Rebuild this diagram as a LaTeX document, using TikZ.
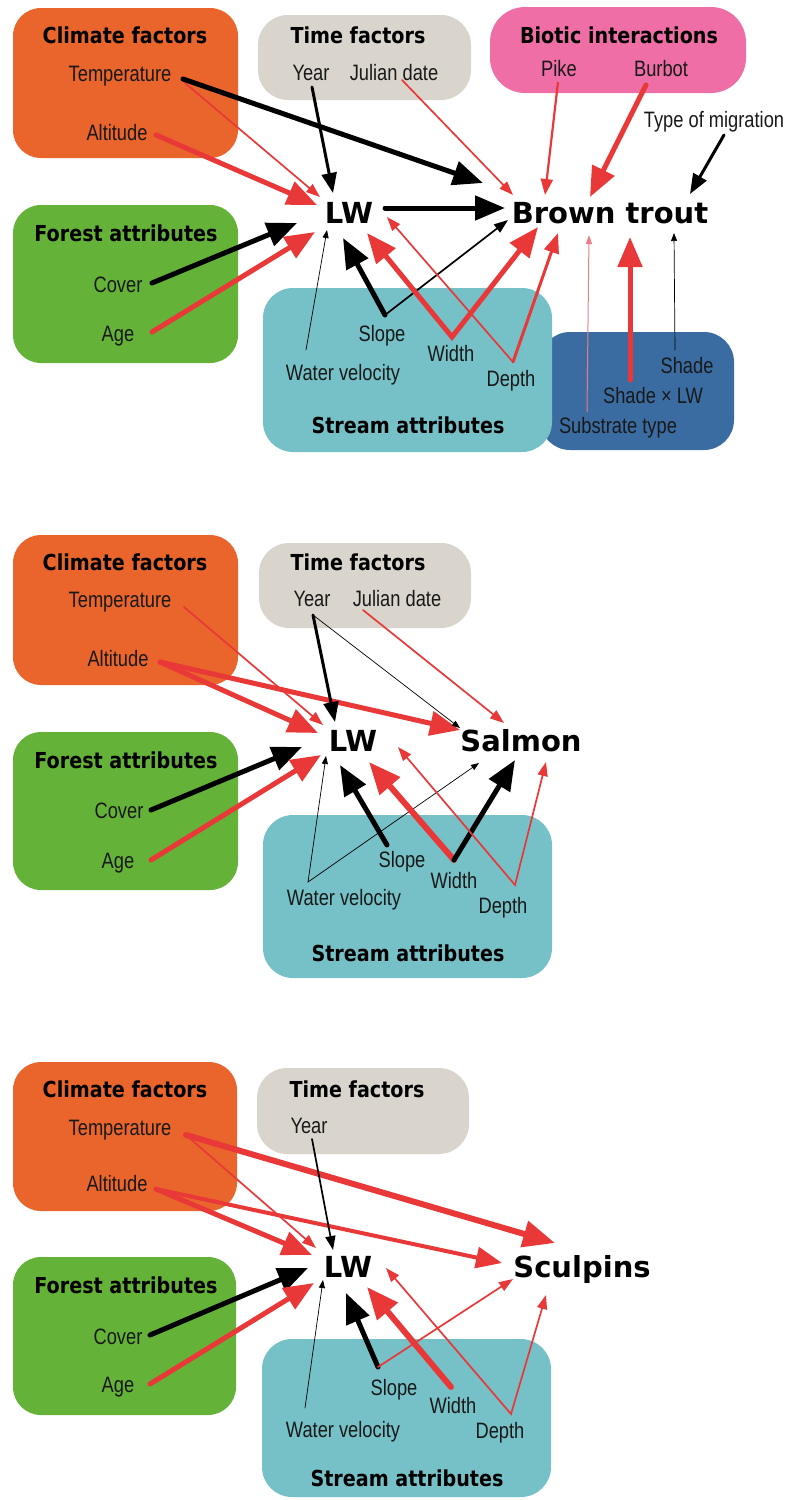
\documentclass[tikz,border=0pt]{standalone}
\usepackage{fontspec}
\setmainfont{Liberation Sans}
\newfontfamily\labfont[FakeStretch=0.82]{Liberation Sans}
\newfontfamily\ttlfont[FakeStretch=0.87]{DejaVu Sans}
\newfontfamily\bigfont{DejaVu Sans}
\usetikzlibrary{arrows.meta,calc}
\definecolor{climc}{RGB}{233,101,43}
\definecolor{timec}{RGB}{218,213,204}
\definecolor{bioc}{RGB}{238,110,165}
\definecolor{forc}{RGB}{101,178,57}
\definecolor{strc}{RGB}{118,193,199}
\definecolor{darkc}{RGB}{58,108,162}
\definecolor{arred}{RGB}{232,56,56}
\definecolor{arpink}{RGB}{236,125,135}
\definecolor{labc}{RGB}{25,25,25}
\begin{document}
\begin{tikzpicture}[x=1pt,y=-1pt,
  box/.style={inner sep=0pt, outer sep=0pt, draw=none},
  ttl/.style={font=\ttlfont\bfseries\fontsize{22}{26}\selectfont, inner sep=0pt, text height=16pt, text depth=0pt},
  lab/.style={font=\labfont\fontsize{22.3}{26}\selectfont, text=labc, inner sep=0pt, text height=16pt, text depth=0pt},
  big/.style={font=\bigfont\bfseries\fontsize{29}{34}\selectfont, inner sep=0pt, text height=21pt, text depth=0pt},
  xthk/.style={line width=6pt, line cap=round, -{Triangle[length=32pt,width=26pt]}},
  thk/.style={line width=5pt, line cap=round, -{Triangle[length=30pt,width=24pt]}},
  mthk/.style={line width=4pt, line cap=round, -{Triangle[length=26pt,width=21pt]}},
  med/.style={line width=3pt, line cap=round, -{Triangle[length=20pt,width=15pt]}},
  thn/.style={line width=1.7pt, line cap=round, -{Triangle[length=14pt,width=10pt]}},
  vth/.style={line width=0.7pt, line cap=round, -{Triangle[length=8pt,width=6pt]}},
  thkb/.style={line width=5pt, line join=miter, {Triangle[length=30pt,width=24pt]}-{Triangle[length=30pt,width=24pt]}},
  thnb/.style={line width=1.7pt, line join=miter, {Triangle[length=14pt,width=10pt]}-{Triangle[length=14pt,width=10pt]}},
  vthb/.style={line width=0.7pt, line join=miter, {Triangle[length=8pt,width=6pt]}-{Triangle[length=8pt,width=6pt]}}
]
\useasboundingbox (0,0) rectangle (791,1500);

%%%%%%%%%%%%%%%% PANEL 1 %%%%%%%%%%%%%%%%
\node[box, fill=climc, rounded corners=28pt, minimum width=225pt, minimum height=150pt] (cf1) at (125.5,83) {};
\node[box, fill=timec, rounded corners=30pt, minimum width=213pt, minimum height=85pt] (tf1) at (364.5,57.5) {};
\node[box, fill=bioc, rounded corners=35pt, minimum width=256pt, minimum height=86pt] (bi1) at (618,50) {};
\node[box, fill=forc, rounded corners=28pt, minimum width=225pt, minimum height=158pt] (fa1) at (125.5,284) {};
\node[box, fill=darkc, rounded corners=30pt, minimum width=194pt, minimum height=118pt] (db1) at (637,391) {};
\node[box, fill=strc, rounded corners=30pt, minimum width=289pt, minimum height=164pt] (sa1) at (407.5,370) {};

\node[ttl] (cft1) at (125,35) {Climate factors};
\node[ttl] (tft1) at (358,35) {Time factors};
\node[ttl] (bit1) at (619,35) {Biotic interactions};
\node[ttl] (fat1) at (126,233) {Forest attributes};
\node[ttl] (sat1) at (408,425) {Stream attributes};

\node[lab] (temp1) at (120,73) {Temperature};
\node[lab] (alt1) at (117,132) {Altitude};
\node[lab] (year1) at (311,72) {Year};
\node[lab] (jul1) at (394,72) {Julian date};
\node[lab] (pike) at (559,68) {Pike};
\node[lab] (burbot) at (661,68) {Burbot};
\node[lab] (mig) at (714,119) {Type of migration};
\node[lab] (cover1) at (118,284) {Cover};
\node[lab] (age1) at (118,333) {Age};
\node[lab] (slope1) at (382,333) {Slope};
\node[lab] (wv1) at (343,372) {Water velocity};
\node[lab] (width1) at (451,353) {Width};
\node[lab] (depth1) at (511,378) {Depth};
\node[lab] (shade) at (687,365) {Shade};
\node[lab] (slw) at (653,395) {Shade × LW};
\node[lab] (subst) at (618,425) {Substrate type};
\node[big] (lw1) at (349,213) {LW};
\node[big] (bt) at (610,213) {Brown trout};

\coordinate (sv1) at ($(slope1)+(3,-18)$);
\coordinate (wdv1) at ($(width1)+(1,-16)$);
\coordinate (dpv1) at ($(depth1)+(2,-16)$);

\draw[arred, thn] ($(temp1)+(65,10)$) -- ($(lw1)+(-29,-16)$);
\draw[black, thk] ($(temp1)+(63,6)$) -- ($(bt)+(-127,-30)$);
\draw[arred, thk] ($(alt1)+(39,3)$) -- ($(lw1)+(-32,-8)$);
\draw[black, med] ($(year1)+(1,15)$) -- ($(lw1)+(-16,-20)$);
\draw[arred, thn] ($(jul1)+(8,8)$) -- ($(bt)+(-97,-18)$);
\draw[arred, line width=2.2pt, -{Triangle[length=16pt,width=12pt]}] ($(pike)+(-1,14)$) -- ($(bt)+(-65,-18)$);
\draw[arred, thk] ($(burbot)+(-15,17)$) -- ($(bt)+(-20,-16)$);
\draw[black, med] ($(mig)+(10,16)$) -- ($(bt)+(80,-19)$);
\draw[black, thk] ($(lw1)+(36,-5)$) -- ($(bt)+(-105,-5)$);
\draw[black, thk] ($(cover1)+(34,-1)$) -- ($(lw1)+(-52,10)$);
\draw[arred, thk] ($(age1)+(34,-1)$) -- ($(lw1)+(-34,19)$);
\draw[black, vth] ($(wv1)+(-37,-22)$) -- ($(lw1)+(-22,17)$);
\draw[black, thk] (sv1) -- ($(lw1)+(-6,25)$);
\draw[black, thn] (sv1) -- ($(bt)+(-102,7)$);
\draw[arred, thkb] ($(lw1)+(18,20)$) -- (wdv1) -- ($(bt)+(-72,14)$);
\draw[arred, thn] (dpv1) -- ($(lw1)+(38,4)$);
\draw[arred, med] (dpv1) -- ($(bt)+(-52,20)$);
\draw[arpink, line width=1pt, -{Triangle[length=9pt,width=6pt]}] ($(subst)+(-31,-13)$) -- ($(bt)+(-21,22)$);
\draw[arred, thk] ($(slw)+(-23,-15)$) -- ($(bt)+(20,24)$);
\draw[black, vth] ($(shade)+(-12,-15)$) -- ($(bt)+(64,20)$);

%%%%%%%%%%%%%%%% PANEL 2 %%%%%%%%%%%%%%%%
\node[box, fill=climc, rounded corners=28pt, minimum width=225pt, minimum height=150pt] (cf2) at (125.5,610) {};
\node[box, fill=timec, rounded corners=30pt, minimum width=212pt, minimum height=85pt] (tf2) at (365,585.5) {};
\node[box, fill=forc, rounded corners=28pt, minimum width=225pt, minimum height=158pt] (fa2) at (125.5,811) {};
\node[box, fill=strc, rounded corners=30pt, minimum width=289pt, minimum height=163pt] (sa2) at (407.5,896.5) {};

\node[ttl] (cft2) at (125,562) {Climate factors};
\node[ttl] (tft2) at (358,562) {Time factors};
\node[ttl] (fat2) at (126,760) {Forest attributes};
\node[ttl] (sat2) at (408,953) {Stream attributes};

\node[lab] (temp2) at (120,599) {Temperature};
\node[lab] (alt2) at (118,658) {Altitude};
\node[lab] (year2) at (312,598) {Year};
\node[lab] (jul2) at (397,598) {Julian date};
\node[lab] (cover2) at (119,810) {Cover};
\node[lab] (age2) at (118,860) {Age};
\node[lab] (slope2) at (402,859) {Slope};
\node[lab] (wv2) at (344,897) {Water velocity};
\node[lab] (width2) at (454,880) {Width};
\node[lab] (depth2) at (503,905) {Depth};
\node[big] (lw2) at (353,741) {LW};
\node[big] (salmon) at (521,741) {Salmon};

\coordinate (av2) at ($(alt2)+(42,4)$);
\coordinate (yv2) at ($(year2)+(1,17)$);
\coordinate (wvv2) at ($(wv2)+(-36,-15)$);
\coordinate (wdv2) at ($(width2)+(0,-20)$);
\coordinate (dpv2) at ($(depth2)+(12,-20)$);

\draw[arred, thn] ($(temp2)+(64,8)$) -- ($(lw2)+(-30,-16)$);
\draw[arred, thk] (av2) -- ($(lw2)+(-35,-8)$);
\draw[arred, thk] (av2) -- ($(salmon)+(-61,-11)$);
\draw[black, med] (yv2) -- ($(lw2)+(-18,-19)$);
\draw[black, vth] (yv2) -- ($(salmon)+(-61,-13)$);
\draw[arred, thn] ($(jul2)+(-34,12)$) -- ($(salmon)+(-17,-18)$);
\draw[black, thk] ($(cover2)+(32,0)$) -- ($(lw2)+(-51,6)$);
\draw[arred, thk] ($(age2)+(33,0)$) -- ($(lw2)+(-32,14)$);
\draw[black, vthb] ($(lw2)+(-27,15)$) -- (wvv2) -- ($(salmon)+(-42,22)$);
\draw[black, thk] ($(slope2)+(-15,-14)$) -- ($(lw2)+(-13,24)$);
\draw[arred, xthk] (wdv2) -- ($(lw2)+(16,21)$);
\draw[black, thk] (wdv2) -- ($(salmon)+(-6,19)$);
\draw[arred, thnb] ($(lw2)+(45,6)$) -- (dpv2) -- ($(salmon)+(25,21)$);

%%%%%%%%%%%%%%%% PANEL 3 %%%%%%%%%%%%%%%%
\node[box, fill=climc, rounded corners=28pt, minimum width=224pt, minimum height=149pt] (cf3) at (125,1136.5) {};
\node[box, fill=timec, rounded corners=30pt, minimum width=212pt, minimum height=86pt] (tf3) at (363,1111) {};
\node[box, fill=forc, rounded corners=28pt, minimum width=223pt, minimum height=158pt] (fa3) at (124.5,1336) {};
\node[box, fill=strc, rounded corners=30pt, minimum width=289pt, minimum height=158pt] (sa3) at (406.5,1418) {};

\node[ttl] (cft3) at (125,1089) {Climate factors};
\node[ttl] (tft3) at (357,1089) {Time factors};
\node[ttl] (fat3) at (126,1285) {Forest attributes};
\node[ttl] (sat3) at (407,1478) {Stream attributes};

\node[lab] (temp3) at (120,1127) {Temperature};
\node[lab] (alt3) at (117,1183) {Altitude};
\node[lab] (year3) at (309,1125) {Year};
\node[lab] (cover3) at (118,1336) {Cover};
\node[lab] (age3) at (118,1384) {Age};
\node[lab] (slope3) at (394,1387) {Slope};
\node[lab] (width3) at (453,1405) {Width};
\node[lab] (wv3) at (343,1429) {Water velocity};
\node[lab] (depth3) at (500,1430) {Depth};
\node[big] (lw3) at (348,1267) {LW};
\node[big] (sculp) at (582,1267) {Sculpins};

\coordinate (tv3) at ($(temp3)+(66,8)$);
\coordinate (av3) at ($(alt3)+(39,6)$);
\coordinate (sv3) at ($(slope3)+(-16,-20)$);
\coordinate (dpv3) at ($(depth3)+(11,-16)$);

\draw[arred, thn] (tv3) -- ($(lw3)+(-32,-19)$);
\draw[arred, xthk] (tv3) -- ($(sculp)+(-27,-24)$);
\draw[arred, thk] (av3) -- ($(lw3)+(-36,-12)$);
\draw[arred, mthk] (av3) -- ($(sculp)+(-80,-4)$);
\draw[black, thn] ($(year3)+(3,14)$) -- ($(lw3)+(-15,-17)$);
\draw[black, thk] ($(cover3)+(32,-1)$) -- ($(lw3)+(-40,1)$);
\draw[arred, thk] ($(age3)+(32,0)$) -- ($(lw3)+(-34,16)$);
\draw[black, vth] ($(wv3)+(-38,-21)$) -- ($(lw3)+(-25,13)$);
\draw[black, thk] (sv3) -- ($(lw3)+(-2,26)$);
\draw[arred, thn] (sv3) -- ($(sculp)+(-69,12)$);
\draw[arred, xthk] ($(width3)+(-2,-18)$) -- ($(lw3)+(19,20)$);
\draw[arred, thnb] ($(lw3)+(38,1)$) -- (dpv3) -- ($(sculp)+(-36,28)$);
\end{tikzpicture}
\end{document}
